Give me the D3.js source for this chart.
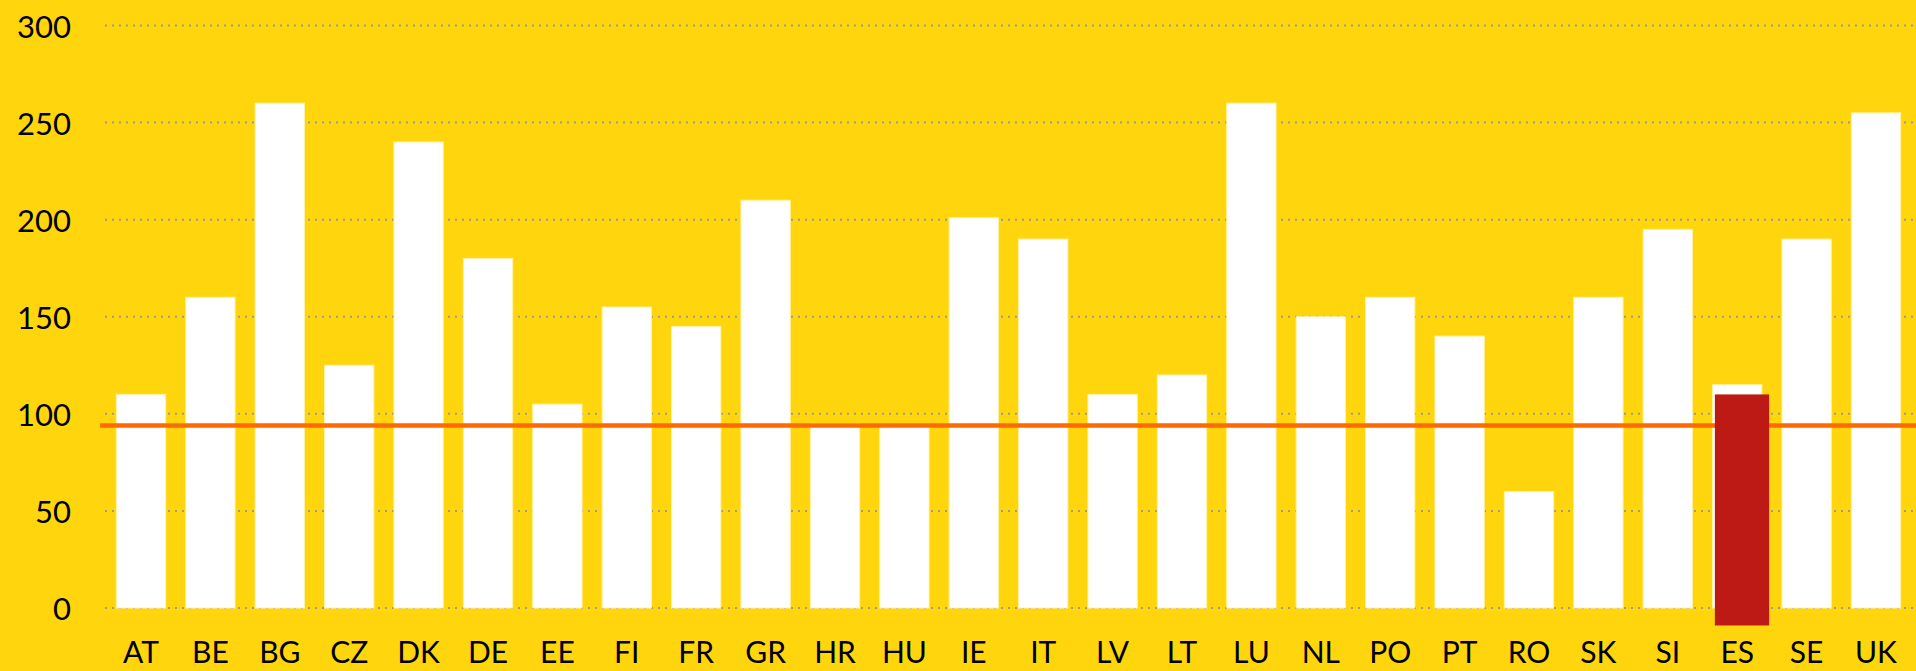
<!DOCTYPE html>
<html>
<head>
<meta charset="utf-8">
<script src="https://cdn.jsdelivr.net/npm/d3@7"></script>
<style>
  html, body { margin: 0; padding: 0; background: #FFD60D; }
  svg { display: block; }
  text { font-family: Lato, "Open Sans", sans-serif; }
</style>
</head>
<body>
<svg id="chart" width="1916" height="671"></svg>
<script>
const categories = ["AT","BE","BG","CZ","DK","DE","EE","FI","FR","GR","HR","HU","IE","IT","LV","LT","LU","NL","PO","PT","RO","SK","SI","ES","SE","UK"];
const values = [110,160,260,125,240,180,105,155,145,210,95,94,201,190,110,120,260,150,160,140,60,160,195,115,190,255];
const yTicks = [0,50,100,150,200,250,300];
const referenceValue = 94;
const highlightCategory = "ES";
const highlightValue = 110;
const highlightBottom = -9;

const W = 1916, H = 671;
const svg = d3.select("#chart");

svg.append("rect").attr("width", W).attr("height", H).attr("fill", "#FFD60D");

const x = d3.scaleBand().domain(categories).range([106.3, 1910.7]).paddingInner(0.29).paddingOuter(0.145);
const y = d3.scaleLinear().domain([0, 300]).range([608, 25.5]);

// gridlines
svg.append("g").selectAll("line").data(yTicks).join("line")
  .attr("x1", 105).attr("x2", W)
  .attr("y1", d => y(d)).attr("y2", d => y(d))
  .attr("stroke", "#A09A8A").attr("stroke-width", 2).attr("stroke-dasharray", "2,5");

// y labels
svg.append("g").selectAll("text").data(yTicks).join("text")
  .attr("x", 71).attr("y", d => y(d))
  .attr("text-anchor", "end").attr("dominant-baseline", "central")
  .attr("font-size", 31).attr("fill", "#000")
  .text(d => d);

// bars
svg.append("g").selectAll("rect").data(categories).join("rect")
  .attr("x", d => x(d)).attr("width", x.bandwidth())
  .attr("y", (d, i) => y(values[i])).attr("height", (d, i) => y(0) - y(values[i]))
  .attr("fill", "#FFFFFF").attr("stroke", "#FFF2A8").attr("stroke-width", 1);

// x labels
svg.append("g").selectAll("text").data(categories).join("text")
  .attr("x", d => x(d) + x.bandwidth() / 2).attr("y", 663)
  .attr("text-anchor", "middle")
  .attr("font-size", 30).attr("fill", "#000")
  .text(d => d);

// reference line
svg.append("line")
  .attr("x1", 100).attr("x2", W)
  .attr("y1", y(referenceValue)).attr("y2", y(referenceValue))
  .attr("stroke", "#FF6A00").attr("stroke-width", 4.5);

// highlight bar
svg.append("rect")
  .attr("x", x(highlightCategory) + 2.3).attr("width", x.bandwidth() + 5)
  .attr("y", y(highlightValue)).attr("height", y(highlightBottom) - y(highlightValue))
  .attr("fill", "#BD1A16");
</script>
</body>
</html>
